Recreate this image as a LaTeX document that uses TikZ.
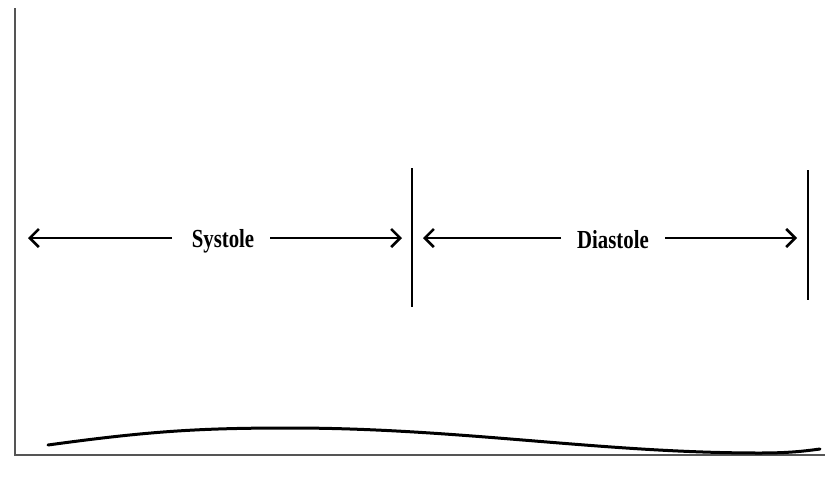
\documentclass[tikz,border=0pt]{standalone}
\usepackage{fontspec}
\setmainfont{Liberation Serif}
\usetikzlibrary{arrows.meta}
\definecolor{axisgray}{RGB}{85,85,85}
\tikzset{
  axisline/.style={draw=axisgray, line width=2pt},
  sepline/.style={draw=black, line width=1.3pt},
  phasearrow/.style={draw=black, line width=2.6pt, -{Straight Barb[length=9pt,width=18pt,line width=2.6pt]}},
  phaselabel/.style={font=\bfseries\fontsize{26}{28}\selectfont, inner xsep=0pt, inner ysep=2pt, xscale=0.8, anchor=base},
  wave/.style={draw=black, line width=3pt, line cap=round}
}
\begin{document}
\begin{tikzpicture}[x=1pt,y=-1pt]
\useasboundingbox (0,0) rectangle (825,483);
% axes
\coordinate (ytop) at (15,8);
\coordinate (origin) at (15,455);
\coordinate (xend) at (825,455);
\draw[axisline] (ytop) -- (origin) -- (xend);
% separators
\coordinate (s1t) at (412,168);
\coordinate (s1b) at (412,307);
\coordinate (s2t) at (808,170);
\coordinate (s2b) at (808,300);
\draw[sepline] (s1t) -- (s1b);
\draw[sepline] (s2t) -- (s2b);
% labels
\node[phaselabel] (sys) at (223,247) {Systole};
\node[phaselabel] (dia) at (613,248) {Diastole};
% arrow ends
\coordinate (sysL) at (28,238);
\coordinate (sysLs) at (172,238);
\coordinate (sysRs) at (270,238);
\coordinate (sysR) at (402,238);
\coordinate (diaL) at (423,238);
\coordinate (diaLs) at (561,238);
\coordinate (diaRs) at (665,238);
\coordinate (diaR) at (797,238);
\draw[phasearrow] (sysLs) -- (sysL);
\draw[phasearrow] (sysRs) -- (sysR);
\draw[phasearrow] (diaLs) -- (diaL);
\draw[phasearrow] (diaRs) -- (diaR);
% wave
\coordinate (w0) at (48,445);
\coordinate (w1) at (290,428);
\coordinate (w2) at (760,453);
\coordinate (w3) at (820,449);
\draw[wave] (w0) .. controls (150,431) and (200,428) .. (w1)
  .. controls (460,428) and (600,453) .. (w2)
  .. controls (790,453) and (805,451) .. (w3);
\end{tikzpicture}
\end{document}
